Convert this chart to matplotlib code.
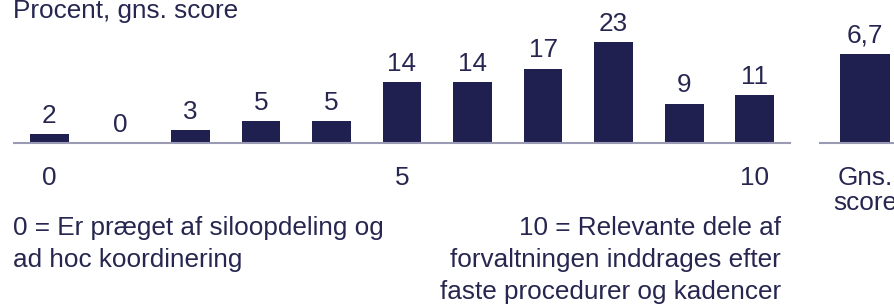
import matplotlib.pyplot as plt

# data
scores = list(range(11))
shares = [2, 0, 3, 5, 5, 14, 14, 17, 23, 9, 11]
tick_labels = ['0', '', '', '', '', '5', '', '', '', '', '10']
avg_score = 6.7
avg_label = 'Gns.\nscore'
title = 'Procent, gns. score'
left_note = ['0 = Er præget af siloopdeling og', 'ad hoc koordinering']
right_note = ['10 = Relevante dele af', 'forvaltningen inddrages efter',
              'faste procedurer og kadencer']

navy = '#1f2050'
text_col = '#262650'
line_col = '#9a9ab4'
fs = 18.8

plt.rcParams['font.family'] = ['Liberation Sans', 'DejaVu Sans']

W, H = 895, 304
fig = plt.figure(figsize=(W / 100, H / 100), dpi=100)

base = 143  # px from top where the axis line sits

def px_axes(x0, x1, top):
    return fig.add_axes([x0 / W, (H - base) / H, (x1 - x0) / W, (base - top) / H])

# main distribution
ax = px_axes(14, 790, base - 30 * 4.38)
ax.bar(scores, shares, width=0.55, color=navy)
ax.set_xlim(-0.5, 10.5)
ax.set_ylim(0, 30)
for x, v in zip(scores, shares):
    ax.annotate(str(v), (x, v), xytext=(0, 8), textcoords='offset points',
                ha='center', va='baseline', fontsize=fs, color=text_col)
ax.set_xticks(scores)
ax.set_xticklabels(tick_labels)

# average bar
ax2 = px_axes(820, 910, base - 8 * 13.3)
ax2.bar([0], [avg_score], width=0.55, color=navy)
ax2.set_xlim(-0.5, 0.5)
ax2.set_ylim(0, 8)
ax2.annotate(f'{avg_score:.1f}'.replace('.', ','), (0, avg_score), xytext=(0, 8),
             textcoords='offset points', ha='center', va='baseline',
             fontsize=fs, color=text_col)
ax2.set_xticks([0])
ax2.set_xticklabels([avg_label], linespacing=1.05)

for a in (ax, ax2):
    for s in ('top', 'right', 'left'):
        a.spines[s].set_visible(False)
    a.spines['bottom'].set_color(line_col)
    a.spines['bottom'].set_linewidth(1.5)
    a.set_yticks([])
    a.tick_params(axis='x', length=0, pad=16.5, labelsize=fs, labelcolor=text_col)
    a.patch.set_alpha(0)

fig.text(13 / W, (H - 18) / H, title, fontsize=fs, color=text_col, va='baseline')
for i, line in enumerate(left_note):
    fig.text(13 / W, (H - 235 - 32 * i) / H, line, fontsize=fs, color=text_col,
             va='baseline')
for i, line in enumerate(right_note):
    fig.text(781 / W, (H - 235 - 32 * i) / H, line, fontsize=fs, color=text_col,
             va='baseline', ha='right')

fig.savefig('out.png', dpi=100)
